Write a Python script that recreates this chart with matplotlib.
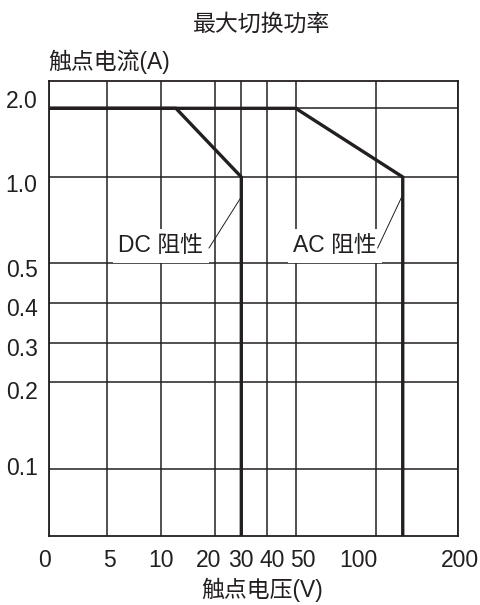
import numpy as np
import matplotlib
matplotlib.use("Agg")
import matplotlib.pyplot as plt
from matplotlib.transforms import ScaledTranslation

plt.rcParams['font.family'] = ['Liberation Sans', 'Noto Sans CJK SC']

# tick values (non-uniform chart scale)
x_ticks = [0, 5, 10, 20, 30, 40, 50, 100, 200]
x_ticklabels = ['0', '5', '10', '20', '30', '40', '50', '100', '200']
y_ticks = [0.1, 0.2, 0.3, 0.4, 0.5, 1.0, 2.0]
y_ticklabels = ['0.1', '0.2', '0.3', '0.4', '0.5', '1.0', '2.0']

# max switching curves (voltage V, current A)
dc_v = [0, 12.8, 30, 30]
dc_i = [2.0, 2.0, 1.0, 0]
ac_v = [0, 50, 133, 133]
ac_i = [2.0, 2.0, 1.0, 0]

# scale knots for the printed (hand-drawn) axes
xk_val = np.array([0, 5, 10, 20, 30, 40, 50, 100, 200], float)
xk_pos = np.array([0, 58.3, 112, 166.3, 192.6, 218, 247, 327, 409])
yk_val = np.array([0, 0.1, 0.2, 0.3, 0.4, 0.5, 1.0, 2.0, 2.4])
yk_pos = np.array([0, 66.7, 153.7, 192.7, 233.3, 273.3, 359, 427.7, 455.3])

# the printed labels sit a little off their grid lines (px)
x_lab_shift = [-4.5, 2, 0, -6, 0, 5, 7, -17, 2]
y_lab_shift = [3.5, -7.5, -3.4, -4, -5, -5.5, 9]

def xf(v): return np.interp(v, xk_val, xk_pos)
def xi(p): return np.interp(p, xk_pos, xk_val)
def yf(v): return np.interp(v, yk_val, yk_pos)
def yi(p): return np.interp(p, yk_pos, yk_val)

ink = '#231f20'
fs = 16.5

fig = plt.figure(figsize=(4.8, 6.05), dpi=100)
ax = fig.add_axes([0.1015, 0.114, 0.852, 0.7526])
ax.set_xscale('function', functions=(xf, xi))
ax.set_yscale('function', functions=(yf, yi))
ax.set_xlim(0, 200)
ax.set_ylim(0, 2.4)

ax.set_xticks(x_ticks)
ax.set_xticklabels(x_ticklabels)
ax.set_yticks(y_ticks)
ax.set_yticklabels(y_ticklabels)
ax.minorticks_off()
ax.tick_params(length=0, labelsize=fs, colors=ink, pad=8)
ax.tick_params(axis='x', pad=9)
ax.grid(True, color=ink, lw=1.1)
for s in ax.spines.values():
    s.set_color(ink)
    s.set_linewidth(1.3)

ax.plot(dc_v, dc_i, color=ink, lw=2.4, zorder=3, solid_joinstyle='miter')
ax.plot(ac_v, ac_i, color=ink, lw=2.4, zorder=3, solid_joinstyle='miter')

box = dict(facecolor='white', edgecolor='none', pad=4)
ax.text(10, 0.6, 'DC 阻性', ha='center', va='center', fontsize=fs, color=ink, bbox=box, zorder=4)
ax.text(74.6, 0.6, 'AC 阻性', ha='center', va='center', fontsize=fs, color=ink, bbox=box, zorder=4)
ax.plot([18.9, 29.5], [0.586, 0.872], color=ink, lw=0.7, zorder=5)
ax.plot([102.4, 131.7], [0.586, 0.883], color=ink, lw=0.7, zorder=5)

fig.text(0.545, 0.960, '最大切换功率', ha='center', va='center', fontsize=fs, color=ink)
fig.text(0.1, 0.8975, '触点电流(A)', ha='left', va='center', fontsize=fs, color=ink)
fig.text(0.546, 0.0248, '触点电压(V)', ha='center', va='center', fontsize=fs, color=ink)

for lab, d in zip(ax.get_xticklabels(), x_lab_shift):
    lab.set_transform(lab.get_transform() + ScaledTranslation(d / 100, 0, fig.dpi_scale_trans))
for lab, d in zip(ax.get_yticklabels(), y_lab_shift):
    lab.set_transform(lab.get_transform() + ScaledTranslation(0, d / 100, fig.dpi_scale_trans))

fig.savefig('out.png', dpi=100)
